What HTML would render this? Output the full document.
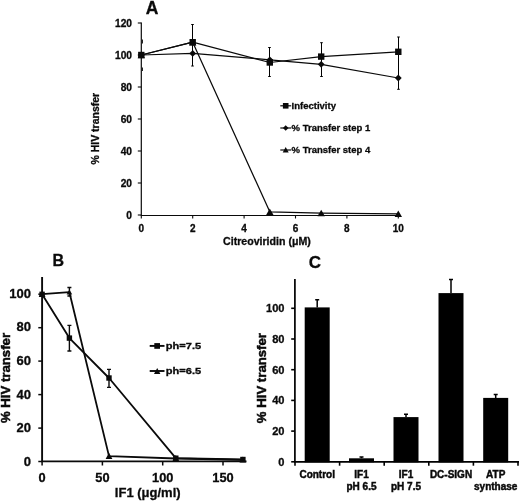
<!DOCTYPE html>
<html><head><meta charset="utf-8"><title>Figure</title>
<style>
html,body{margin:0;padding:0;background:#fff;}
body{width:520px;height:503px;overflow:hidden;font-family:"Liberation Sans",sans-serif;}
svg{display:block;filter:grayscale(1);}
text{font-family:"Liberation Sans",sans-serif;font-weight:bold;fill:#0a0a0a;stroke:#0a0a0a;stroke-width:0.3px;}
</style></head><body>
<svg width="520" height="503" viewBox="0 0 520 503">
<rect width="520" height="503" fill="#fff"/>

<g id="panelA">
<text x="152.1" y="13.5" font-size="17.5" text-anchor="middle">A</text>
<path d="M141.3 22.5V215.5H400" fill="none" stroke="#0a0a0a" stroke-width="1.2"/>
<path d="M137.8 215.0H141.3" stroke="#0a0a0a" stroke-width="1.1"/>
<text x="132.0" y="218.8" font-size="10.2" text-anchor="end">0</text>
<path d="M137.8 183.0H141.3" stroke="#0a0a0a" stroke-width="1.1"/>
<text x="132.0" y="186.8" font-size="10.2" text-anchor="end">20</text>
<path d="M137.8 151.0H141.3" stroke="#0a0a0a" stroke-width="1.1"/>
<text x="132.0" y="154.8" font-size="10.2" text-anchor="end">40</text>
<path d="M137.8 119.0H141.3" stroke="#0a0a0a" stroke-width="1.1"/>
<text x="132.0" y="122.8" font-size="10.2" text-anchor="end">60</text>
<path d="M137.8 87.0H141.3" stroke="#0a0a0a" stroke-width="1.1"/>
<text x="132.0" y="90.8" font-size="10.2" text-anchor="end">80</text>
<path d="M137.8 55.0H141.3" stroke="#0a0a0a" stroke-width="1.1"/>
<text x="132.0" y="58.8" font-size="10.2" text-anchor="end">100</text>
<path d="M137.8 23.0H141.3" stroke="#0a0a0a" stroke-width="1.1"/>
<text x="132.0" y="26.8" font-size="10.2" text-anchor="end">120</text>
<path d="M141.3 215V218.5" stroke="#0a0a0a" stroke-width="1.1"/>
<text x="141.3" y="231.5" font-size="10" text-anchor="middle">0</text>
<path d="M192.7 215V218.5" stroke="#0a0a0a" stroke-width="1.1"/>
<text x="192.7" y="231.5" font-size="10" text-anchor="middle">2</text>
<path d="M244.1 215V218.5" stroke="#0a0a0a" stroke-width="1.1"/>
<text x="244.1" y="231.5" font-size="10" text-anchor="middle">4</text>
<path d="M295.5 215V218.5" stroke="#0a0a0a" stroke-width="1.1"/>
<text x="295.5" y="231.5" font-size="10" text-anchor="middle">6</text>
<path d="M346.9 215V218.5" stroke="#0a0a0a" stroke-width="1.1"/>
<text x="346.9" y="231.5" font-size="10" text-anchor="middle">8</text>
<path d="M398.3 215V218.5" stroke="#0a0a0a" stroke-width="1.1"/>
<text x="398.3" y="231.5" font-size="10" text-anchor="middle">10</text>
<text transform="translate(99.0,128.7) rotate(-90)" font-size="10.5" text-anchor="middle">% HIV transfer</text>
<text x="266.9" y="245.2" font-size="10.6" text-anchor="middle">Citreoviridin (μM)</text>
<path d="M192.5 24.5V66M191.2 24.5H193.8M191.2 66H193.8" stroke="#000" stroke-width="1" fill="none"/>
<path d="M269.5 47.5V76.5M268.2 47.5H270.8M268.2 76.5H270.8" stroke="#000" stroke-width="1" fill="none"/>
<path d="M321.5 42.7V76.5M320.2 42.7H322.8M320.2 76.5H322.8" stroke="#000" stroke-width="1" fill="none"/>
<path d="M398.5 37V89.3M397.2 37H399.8M397.2 89.3H399.8" stroke="#000" stroke-width="1" fill="none"/>
<path d="M142.5 39.5V43.5M142.5 67.5V71" stroke="#222" stroke-width="1"/>
<polyline points="141.3,55.0 192.7,42.2 269.8,62.5 321.2,56.6 398.3,51.8" fill="none" stroke="#0a0a0a" stroke-width="1.25" stroke-linejoin="round"/>
<polyline points="141.3,55.0 192.7,53.4 269.8,59.8 321.2,64.3 398.3,78.0" fill="none" stroke="#0a0a0a" stroke-width="1.25" stroke-linejoin="round"/>
<polyline points="141.3,55.0 192.7,42.2 269.8,211.8 321.2,213.1 398.3,213.9" fill="none" stroke="#0a0a0a" stroke-width="1.25" stroke-linejoin="round"/>
<path d="M141.3 51.6L145.0 58.3H137.6Z" fill="#0a0a0a"/>
<path d="M192.7 38.8L196.4 45.5H189.0Z" fill="#0a0a0a"/>
<path d="M269.8 208.4L273.5 215.1H266.1Z" fill="#0a0a0a"/>
<path d="M321.2 209.7L324.9 216.3H317.5Z" fill="#0a0a0a"/>
<path d="M398.3 210.5L402.0 217.1H394.6Z" fill="#0a0a0a"/>
<path d="M141.3 51.6L144.7 55.0L141.3 58.4L137.9 55.0Z" fill="#0a0a0a"/>
<path d="M192.7 50.0L196.1 53.4L192.7 56.8L189.3 53.4Z" fill="#0a0a0a"/>
<path d="M269.8 56.4L273.2 59.8L269.8 63.2L266.4 59.8Z" fill="#0a0a0a"/>
<path d="M321.2 60.9L324.6 64.3L321.2 67.7L317.8 64.3Z" fill="#0a0a0a"/>
<path d="M398.3 74.6L401.7 78.0L398.3 81.4L394.9 78.0Z" fill="#0a0a0a"/>
<rect x="138.1" y="51.8" width="6.4" height="6.4" fill="#0a0a0a"/>
<rect x="189.5" y="39.0" width="6.4" height="6.4" fill="#0a0a0a"/>
<rect x="266.6" y="59.3" width="6.4" height="6.4" fill="#0a0a0a"/>
<rect x="318.0" y="53.4" width="6.4" height="6.4" fill="#0a0a0a"/>
<rect x="395.1" y="48.6" width="6.4" height="6.4" fill="#0a0a0a"/>
<path d="M280.3 105.8H291.2" stroke="#0a0a0a" stroke-width="1.2"/>
<rect x="282.9" y="103.0" width="5.6" height="5.6" fill="#0a0a0a"/>
<text x="291.6" y="109.1" font-size="9.5">Infectivity</text>
<path d="M280.3 128H291.2" stroke="#0a0a0a" stroke-width="1.2"/>
<path d="M285.7 125.2L288.5 128.0L285.7 130.8L282.9 128.0Z" fill="#0a0a0a"/>
<text x="291.6" y="131.3" font-size="9.5">% Transfer step 1</text>
<path d="M280.3 150H291.2" stroke="#0a0a0a" stroke-width="1.2"/>
<path d="M285.7 147.0L288.7 152.4H282.7Z" fill="#0a0a0a"/>
<text x="291.6" y="153.3" font-size="9.5">% Transfer step 4</text>
</g>
<g id="panelB">
<text x="52.5" y="266.2" font-size="16">B</text>
<path d="M42.1 277V461.4H246.5" fill="none" stroke="#0a0a0a" stroke-width="1.9"/>
<path d="M38.3 461.5H42.1" stroke="#0a0a0a" stroke-width="1.5"/>
<text x="30.9" y="465.8" font-size="13" text-anchor="end">0</text>
<path d="M38.3 428.1H42.1" stroke="#0a0a0a" stroke-width="1.5"/>
<text x="30.9" y="432.2" font-size="13" text-anchor="end">20</text>
<path d="M38.3 394.6H42.1" stroke="#0a0a0a" stroke-width="1.5"/>
<text x="30.9" y="398.6" font-size="13" text-anchor="end">40</text>
<path d="M38.3 361.1H42.1" stroke="#0a0a0a" stroke-width="1.5"/>
<text x="30.9" y="365.0" font-size="13" text-anchor="end">60</text>
<path d="M38.3 327.7H42.1" stroke="#0a0a0a" stroke-width="1.5"/>
<text x="30.9" y="331.4" font-size="13" text-anchor="end">80</text>
<path d="M38.3 294.2H42.1" stroke="#0a0a0a" stroke-width="1.5"/>
<text x="30.9" y="297.9" font-size="13" text-anchor="end">100</text>
<path d="M42.1 461.5V465.5" stroke="#0a0a0a" stroke-width="1.5"/>
<text x="42.1" y="481.8" font-size="12.8" text-anchor="middle">0</text>
<path d="M102.4 461.5V465.5" stroke="#0a0a0a" stroke-width="1.5"/>
<text x="102.4" y="481.8" font-size="12.8" text-anchor="middle">50</text>
<path d="M162.7 461.5V465.5" stroke="#0a0a0a" stroke-width="1.5"/>
<text x="162.7" y="481.8" font-size="12.8" text-anchor="middle">100</text>
<path d="M223.0 461.5V465.5" stroke="#0a0a0a" stroke-width="1.5"/>
<text x="223.0" y="481.8" font-size="12.8" text-anchor="middle">150</text>
<text transform="translate(10.2,378) rotate(-90)" font-size="13.2" style="stroke-width:0.5px" text-anchor="middle">% HIV transfer</text>
<text x="180.6" y="496.8" font-size="13" text-anchor="end">IF1 (μg/ml)</text>
<path d="M69.4 325.4V351M67.4 325.4H71.4M67.4 351H71.4" stroke="#0a0a0a" stroke-width="1.4" fill="none"/>
<path d="M109.0 369.4V387.4M107.0 369.4H111.0M107.0 387.4H111.0" stroke="#0a0a0a" stroke-width="1.4" fill="none"/>
<path d="M69.4 287.5V296M67.4 287.5H71.4M67.4 296H71.4" stroke="#0a0a0a" stroke-width="1.4" fill="none"/>
<polyline points="42.1,294.2 69.4,338.1 109.0,378.0 175.8,458.2 242.9,459.5" fill="none" stroke="#0a0a0a" stroke-width="1.8" stroke-linejoin="round"/>
<polyline points="42.1,294.2 69.4,292.2 109.0,456.1 175.8,458.5 242.9,459.8" fill="none" stroke="#0a0a0a" stroke-width="1.8" stroke-linejoin="round"/>
<path d="M42.1 290.9L45.5 297.0H38.7Z" fill="#0a0a0a"/>
<path d="M69.4 289.4L72.2 294.5H66.6Z" fill="#0a0a0a"/>
<path d="M109.0 452.7L112.4 458.9H105.6Z" fill="#0a0a0a"/>
<path d="M175.8 455.1L179.2 461.2H172.4Z" fill="#0a0a0a"/>
<path d="M242.9 456.4L246.3 462.5H239.5Z" fill="#0a0a0a"/>
<rect x="39.4" y="291.6" width="5.4" height="5.4" fill="#0a0a0a"/>
<rect x="66.7" y="335.4" width="5.4" height="5.4" fill="#0a0a0a"/>
<rect x="106.3" y="375.3" width="5.4" height="5.4" fill="#0a0a0a"/>
<rect x="173.1" y="455.5" width="5.4" height="5.4" fill="#0a0a0a"/>
<rect x="240.2" y="456.8" width="5.4" height="5.4" fill="#0a0a0a"/>
<path d="M149.7 345.9H164.5" stroke="#0a0a0a" stroke-width="1.9"/>
<rect x="154.3" y="343.1" width="5.7" height="5.7" fill="#0a0a0a"/>
<text transform="translate(165.8,348.9) scale(1.19,1)" font-size="9.3">ph=7.5</text>
<path d="M149.7 371H164.5" stroke="#0a0a0a" stroke-width="1.9"/>
<path d="M157.2 368.1L160.4 373.9H154.0Z" fill="#0a0a0a"/>
<text transform="translate(165.8,374.0) scale(1.19,1)" font-size="9.3">ph=6.5</text>
</g>
<g id="panelC">
<text x="314.9" y="267.6" font-size="17" text-anchor="middle">C</text>
<path d="M294.9 279V461.8H519" fill="none" stroke="#000" stroke-width="1.7"/>
<path d="M291.2 461.8H295" stroke="#000" stroke-width="1.6"/>
<text x="284.5" y="465.7" font-size="11.1" text-anchor="end">0</text>
<path d="M291.2 431.1H295" stroke="#000" stroke-width="1.6"/>
<text x="284.5" y="435.0" font-size="11.1" text-anchor="end">20</text>
<path d="M291.2 400.4H295" stroke="#000" stroke-width="1.6"/>
<text x="284.5" y="404.3" font-size="11.1" text-anchor="end">40</text>
<path d="M291.2 369.7H295" stroke="#000" stroke-width="1.6"/>
<text x="284.5" y="373.6" font-size="11.1" text-anchor="end">60</text>
<path d="M291.2 339.0H295" stroke="#000" stroke-width="1.6"/>
<text x="284.5" y="342.9" font-size="11.1" text-anchor="end">80</text>
<path d="M291.2 308.3H295" stroke="#000" stroke-width="1.6"/>
<text x="284.5" y="312.2" font-size="11.1" text-anchor="end">100</text>
<path d="M295.0 461.8V465.7" stroke="#000" stroke-width="1.6"/>
<path d="M339.6 461.8V465.7" stroke="#000" stroke-width="1.6"/>
<path d="M384.2 461.8V465.7" stroke="#000" stroke-width="1.6"/>
<path d="M428.8 461.8V465.7" stroke="#000" stroke-width="1.6"/>
<path d="M473.4 461.8V465.7" stroke="#000" stroke-width="1.6"/>
<path d="M518.0 461.8V465.7" stroke="#000" stroke-width="1.6"/>
<text transform="translate(265.6,378.1) rotate(-90)" font-size="13.2" style="stroke-width:0.5px" text-anchor="middle">% HIV transfer</text>
<rect x="304.7" y="307.4" width="25" height="154.9" fill="#000"/>
<path d="M317.2 307.4V299.8M315.2 299.8H319.2" stroke="#000" stroke-width="1.5" fill="none"/>
<text x="317.2" y="478.0" font-size="10" text-anchor="middle" style="stroke-width:0.45px">Control</text>
<rect x="349.0" y="458.3" width="25" height="4.0" fill="#000"/>
<path d="M361.5 458.3V457.1M359.5 457.1H363.5" stroke="#000" stroke-width="1.5" fill="none"/>
<text x="361.5" y="478.0" font-size="10" text-anchor="middle" style="stroke-width:0.45px">IF1</text>
<text x="361.5" y="489.6" font-size="10" text-anchor="middle" style="stroke-width:0.45px">pH 6.5</text>
<rect x="393.5" y="417.1" width="25" height="45.2" fill="#000"/>
<path d="M406.0 417.1V414.3M404.0 414.3H408.0" stroke="#000" stroke-width="1.5" fill="none"/>
<text x="406.0" y="478.0" font-size="10" text-anchor="middle" style="stroke-width:0.45px">IF1</text>
<text x="406.0" y="489.6" font-size="10" text-anchor="middle" style="stroke-width:0.45px">pH 7.5</text>
<rect x="438.5" y="293.1" width="25" height="169.2" fill="#000"/>
<path d="M451.0 293.1V279.6M449.0 279.6H453.0" stroke="#000" stroke-width="1.5" fill="none"/>
<text x="451.0" y="478.0" font-size="10" text-anchor="middle" style="stroke-width:0.45px">DC-SIGN</text>
<rect x="483.2" y="397.9" width="25" height="64.4" fill="#000"/>
<path d="M495.7 397.9V394.6M493.7 394.6H497.7" stroke="#000" stroke-width="1.5" fill="none"/>
<text x="495.7" y="478.0" font-size="10" text-anchor="middle" style="stroke-width:0.45px">ATP</text>
<text x="495.7" y="489.6" font-size="10" text-anchor="middle" style="stroke-width:0.45px">synthase</text>
</g>
</svg>
</body></html>
